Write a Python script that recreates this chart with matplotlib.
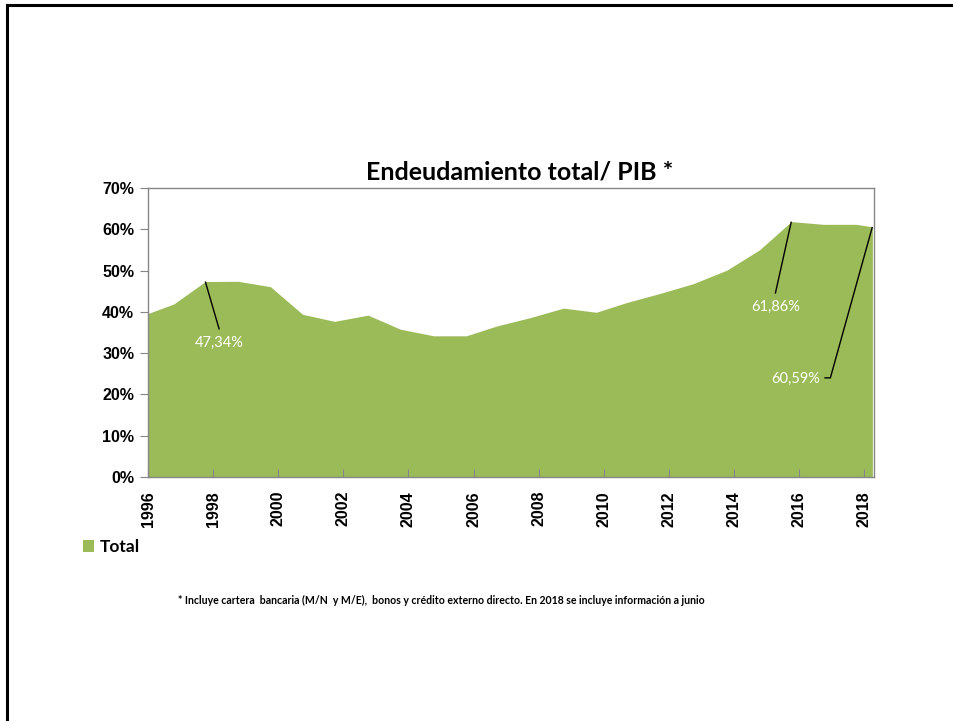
import matplotlib
matplotlib.use("Agg")
import matplotlib.pyplot as plt
import matplotlib.transforms as mtransforms
from matplotlib.patches import Patch
from matplotlib.lines import Line2D
from matplotlib.ticker import FuncFormatter

# Datos: endeudamiento total / PIB (%), eje temporal en años decimales
fechas = [1996.00, 1996.79, 1997.76, 1998.76, 1999.76, 2000.75, 2001.73,
          2002.76, 2003.75, 2004.77, 2005.78, 2006.72, 2007.74, 2008.76,
          2009.77, 2010.72, 2011.70, 2012.74, 2013.78, 2014.78, 2015.76,
          2016.75, 2017.75, 2018.25]
total = [39.6, 41.9, 47.34, 47.4, 46.1, 39.4, 37.7, 39.2, 35.8, 34.2,
         34.2, 36.6, 38.6, 40.9, 39.9, 42.3, 44.4, 46.8, 50.1, 55.0,
         61.86, 61.2, 61.2, 60.59]
anios_ticks = list(range(1996, 2019, 2))
etiquetas = {2: "47,34%", 20: "61,86%", 23: "60,59%"}

verde = "#9BBB59"
gris = "#868686"

fig = plt.figure(figsize=(9.54, 7.21), dpi=100)
ax = fig.add_axes([148 / 954, 1 - 477 / 721, 726 / 954, 289 / 721])

ax.fill_between(fechas, total, 0, color=verde, linewidth=0)
ax.set_xlim(1996, 2018.3)
ax.set_ylim(0, 70)

ax.set_yticks(range(0, 71, 10))
ax.yaxis.set_major_formatter(FuncFormatter(lambda v, p: f"{v:.0f}%"))
ax.set_xticks(anios_ticks)
ax.set_xticklabels([str(a) for a in anios_ticks], rotation=90)

# las etiquetas del eje x quedan un poco a la derecha de la marca
corrimiento = mtransforms.ScaledTranslation(3 / 100, 0, fig.dpi_scale_trans)
for lab in ax.get_xticklabels():
    lab.set_transform(lab.get_transform() + corrimiento)
for lab in ax.get_yticklabels() + ax.get_xticklabels():
    lab.set_fontfamily("Liberation Sans")
    lab.set_fontweight("bold")
    lab.set_fontsize(11.5)
ax.tick_params(axis="y", direction="out", length=6, color=gris, pad=4)
ax.tick_params(axis="x", direction="in", length=6, color=gris, pad=10)
for s in ax.spines.values():
    s.set_color(gris)
    s.set_linewidth(1.0)


def desplazar(x, y, dx, dy):
    # desplazamiento en pixeles (dy positivo hacia abajo)
    d = ax.transData.transform((x, y)) + (dx, -dy)
    return ax.transData.inverted().transform(d)


# Etiquetas de datos con lineas guia
guias = {2: [(14, 48)], 20: [(-16, 72)], 23: [(-42, 151), (-48, 151)]}
textos = {2: (14, 61), 20: (-16, 85), 23: (-77, 152)}
for i, txt in etiquetas.items():
    x0, y0 = fechas[i], total[i]
    pts = [(x0, y0)] + [tuple(desplazar(x0, y0, dx, dy)) for dx, dy in guias[i]]
    ax.plot([p[0] for p in pts], [p[1] for p in pts], color="black",
            linewidth=1.0, solid_capstyle="butt", clip_on=False)
    tx, ty = desplazar(x0, y0, *textos[i])
    ax.text(tx, ty, txt, color="white", fontsize=10.5, family="Lato",
            ha="center", va="center")

fig.text(519.5 / 954, 1 - 172 / 721, "Endeudamiento total/ PIB *",
         fontsize=18, fontweight="bold", family="Lato",
         ha="center", va="center")

fig.legend(handles=[Patch(facecolor=verde, edgecolor="none")], labels=["Total"],
           loc="center left", bbox_to_anchor=(83 / 954, 1 - 547 / 721),
           frameon=False, borderpad=0, borderaxespad=0, handlelength=0.65,
           handleheight=0.65, handletextpad=0.3,
           prop={"family": "Lato", "weight": "bold", "size": 12.5})

fig.text(178 / 954, 1 - 600 / 721,
         "* Incluye cartera  bancaria (M/N  y M/E),  bonos y crédito externo directo. "
         "En 2018 se incluye información a junio",
         fontsize=7.6, fontweight="bold", family="Lato", ha="left", va="center")

# marco exterior
fig.add_artist(Line2D([7.5 / 954, 1], [1 - 5 / 721, 1 - 5 / 721],
                      transform=fig.transFigure, color="black", linewidth=2.2))
fig.add_artist(Line2D([7.5 / 954, 7.5 / 954], [0, 1 - 5 / 721],
                      transform=fig.transFigure, color="black", linewidth=2.2))

fig.savefig("out.png", dpi=100)
